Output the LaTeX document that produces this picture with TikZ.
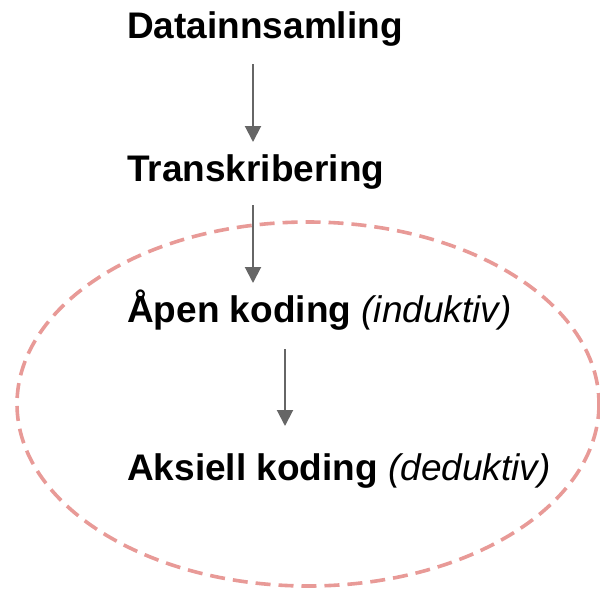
\documentclass[tikz,border=0pt]{standalone}
\usepackage{fontspec}
\setmainfont{Liberation Sans}
\usetikzlibrary{arrows.meta}
\definecolor{flowgray}{HTML}{666666}
\definecolor{groupline}{HTML}{E89A97}
\tikzset{
  stage/.style={anchor=base west, inner sep=0pt, font=\fontsize{37}{41}\selectfont},
  flow/.style={draw=flowgray, line width=2pt, -{Triangle[width=16pt,length=16pt]}},
  grouping/.style={draw=groupline, line width=3.6pt, dash pattern=on 15pt off 8pt}
}
\begin{document}
\begin{tikzpicture}[x=1pt,y=-1pt]
  \useasboundingbox (0,0) rectangle (600,590);
  % ellipse grouping the two coding stages
  \draw[grouping] (308,404) ellipse [x radius=291, y radius=182];
  % stages
  \node[stage] (s1) at (127,38) {\bfseries Datainnsamling};
  \node[stage] (s2) at (127,181) {\bfseries Transkribering};
  \node[stage] (s3) at (127,322) {\textbf{Åpen koding} \textit{(induktiv)}};
  \node[stage] (s4) at (127,480) {\textbf{Aksiell koding} \textit{(deduktiv)}};
  % connectors
  \coordinate (a1s) at (253,64);  \coordinate (a1e) at (253,142);
  \coordinate (a2s) at (253,205); \coordinate (a2e) at (253,283);
  \coordinate (a3s) at (285,349); \coordinate (a3e) at (285,426);
  \draw[flow] (a1s) -- (a1e);
  \draw[flow] (a2s) -- (a2e);
  \draw[flow] (a3s) -- (a3e);
\end{tikzpicture}
\end{document}
